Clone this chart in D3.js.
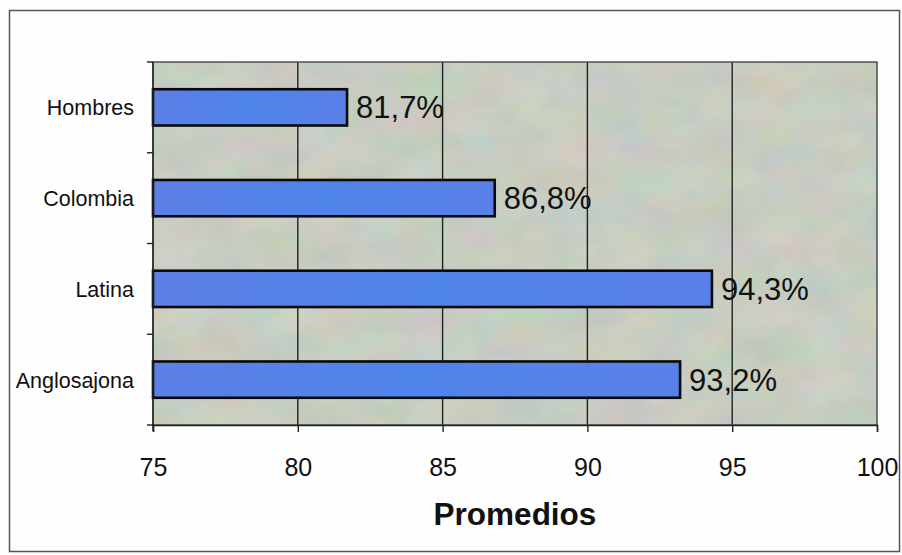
<!DOCTYPE html>
<html>
<head>
<meta charset="utf-8">
<script src="https://cdn.jsdelivr.net/npm/d3@7"></script>
<style>
  html, body { margin: 0; padding: 0; background: #fdfdfd; }
  svg { display: block; font-family: "Liberation Sans", Arial, sans-serif; }
</style>
</head>
<body>
<svg id="chart" width="902" height="555"></svg>
<script>
// Average scores by group
const categories = ["Hombres", "Colombia", "Latina", "Anglosajona"];
const values = [81.7, 86.8, 94.3, 93.2];
const valueLabels = ["81,7%", "86,8%", "94,3%", "93,2%"];
const xTicks = [75, 80, 85, 90, 95, 100];
const axisTitle = "Promedios";

const svg = d3.select("#chart");
const plot = { left: 153, top: 62, right: 877, bottom: 425 };
const FONT = "\"Liberation Sans\", Arial, sans-serif";

const defs = svg.append("defs");

// mottled texture for the plot area
const tex = defs.append("filter").attr("id", "mottle")
  .attr("x", 0).attr("y", 0).attr("width", 1).attr("height", 1);
tex.append("feTurbulence").attr("type", "fractalNoise")
  .attr("baseFrequency", "0.02 0.03").attr("numOctaves", 3).attr("seed", 11).attr("result", "noise");
tex.append("feColorMatrix").attr("in", "noise").attr("type", "matrix")
  .attr("values", "0.6 0 0 0 0.45  0 0.4 0 0 0.55  0 0 0.5 0 0.45  0 0 0 0 1")
  .attr("result", "col");
tex.append("feComposite").attr("in", "col").attr("in2", "SourceGraphic").attr("operator", "in");

const barGrad = defs.append("linearGradient").attr("id", "barFill")
  .attr("x1", 0).attr("y1", 0).attr("x2", 1).attr("y2", 0);
barGrad.append("stop").attr("offset", "0%").attr("stop-color", "#5b7fe6");
barGrad.append("stop").attr("offset", "50%").attr("stop-color", "#4f84ea");
barGrad.append("stop").attr("offset", "100%").attr("stop-color", "#5a80e8");

// outer frame
svg.append("rect")
  .attr("x", 9.5).attr("y", 10.5).attr("width", 890).attr("height", 541)
  .attr("fill", "#fefefe").attr("stroke", "#555").attr("stroke-width", 1.5);

const x = d3.scaleLinear().domain([75, 100]).range([plot.left, plot.right]);
const y = d3.scaleBand().domain(categories).range([plot.top, plot.bottom])
  .paddingInner(0.6).paddingOuter(0.3);

// plot background
svg.append("rect")
  .attr("x", plot.left).attr("y", plot.top)
  .attr("width", plot.right - plot.left).attr("height", plot.bottom - plot.top)
  .attr("fill", "#b8c0b1");
svg.append("rect")
  .attr("x", plot.left).attr("y", plot.top)
  .attr("width", plot.right - plot.left).attr("height", plot.bottom - plot.top)
  .attr("fill", "#fff").attr("filter", "url(#mottle)").attr("opacity", 0.4);

// vertical gridlines
svg.append("g").selectAll("line")
  .data(xTicks.filter(d => d > 75 && d < 100))
  .join("line")
  .attr("x1", d => x(d)).attr("x2", d => x(d))
  .attr("y1", plot.top).attr("y2", plot.bottom)
  .attr("stroke", "#1e2420").attr("stroke-width", 1.4);

// plot border
svg.append("rect")
  .attr("x", plot.left).attr("y", plot.top)
  .attr("width", plot.right - plot.left).attr("height", plot.bottom - plot.top)
  .attr("fill", "none").attr("stroke", "#3d4a42").attr("stroke-width", 1.4);

// bars
svg.append("g").selectAll("rect")
  .data(values)
  .join("rect")
  .attr("x", x(75))
  .attr("y", (d, i) => y(categories[i]))
  .attr("width", d => x(d) - x(75))
  .attr("height", y.bandwidth())
  .attr("fill", "url(#barFill)")
  .attr("stroke", "#0a0a0a").attr("stroke-width", 2.6);

// value labels
svg.append("g").selectAll("text")
  .data(values)
  .join("text")
  .attr("x", d => x(d) + 9)
  .attr("y", (d, i) => y(categories[i]) + y.bandwidth() / 2 + 11)
  .attr("font-size", 31)
  .attr("font-family", FONT)
  .attr("fill", "#111")
  .text((d, i) => valueLabels[i]);

// category axis
const yAxis = svg.append("g")
  .attr("transform", `translate(${plot.left},0)`);
yAxis.append("line")
  .attr("x1", 0).attr("x2", 0).attr("y1", plot.top).attr("y2", plot.bottom + 6)
  .attr("stroke", "#222").attr("stroke-width", 1.4);
const step = (plot.bottom - plot.top) / categories.length;
yAxis.selectAll("line.tick")
  .data(d3.range(categories.length + 1))
  .join("line").attr("class", "tick")
  .attr("x1", -6).attr("x2", 0)
  .attr("y1", i => plot.top + i * step).attr("y2", i => plot.top + i * step)
  .attr("stroke", "#222").attr("stroke-width", 1.4);
yAxis.selectAll("text")
  .data(categories)
  .join("text")
  .attr("x", -19)
  .attr("y", d => y(d) + y.bandwidth() / 2 + 8)
  .attr("text-anchor", "end")
  .attr("font-size", 21.5)
  .attr("font-family", FONT)
  .attr("fill", "#111")
  .text(d => d);

// value axis
const xAxis = svg.append("g")
  .attr("transform", `translate(0,${plot.bottom})`)
  .call(d3.axisBottom(x).tickValues(xTicks).tickSize(7).tickPadding(26).tickFormat(d3.format("d")));
xAxis.select(".domain").attr("stroke", "#222").attr("stroke-width", 1.4);
xAxis.selectAll(".tick line").attr("stroke", "#222").attr("stroke-width", 1.4);
xAxis.selectAll(".tick text")
  .attr("font-size", 25)
  .attr("fill", "#111")
  .attr("font-family", FONT);

// axis title
svg.append("text")
  .attr("x", x(87.5))
  .attr("y", 525)
  .attr("text-anchor", "middle")
  .attr("font-size", 31.5)
  .attr("font-weight", "bold")
  .attr("font-family", FONT)
  .attr("fill", "#111")
  .text(axisTitle);
</script>
</body>
</html>
